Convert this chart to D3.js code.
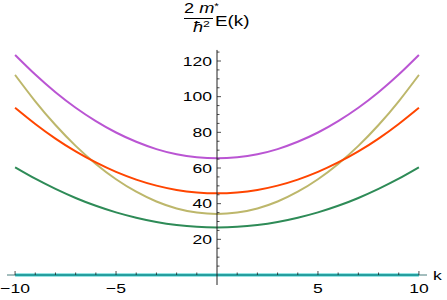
<!DOCTYPE html>
<html>
<head>
<meta charset="utf-8">
<script src="https://cdn.jsdelivr.net/npm/d3@7"></script>
<style>
  body { margin: 0; background: #fff; }
  svg text { font-family: "Liberation Sans", Arial, sans-serif; fill: #000; }
</style>
</head>
<body>
<svg id="chart" width="447" height="300"></svg>
<script>
// values
var kValues = [-10, -9, -8, -7, -6, -5, -4, -3, -2, -1, 0, 1, 2, 3, 4, 5, 6, 7, 8, 9, 10];
var bandPurple = [123.4, 112.4, 102.5, 93.8, 86.3, 79.9, 74.7, 70.6, 67.7, 66.0, 65.4, 66.0, 67.7, 70.6, 74.7, 79.9, 86.3, 93.8, 102.5, 112.4, 123.4];
var bandOrange = [93.8, 84.7, 76.5, 69.3, 63.1, 57.8, 53.5, 50.1, 47.7, 46.3, 45.8, 46.3, 47.7, 50.1, 53.5, 57.8, 63.1, 69.3, 76.5, 84.7, 93.8];
var bandOlive = [112.2, 97.4, 84.1, 72.4, 62.3, 53.7, 46.7, 41.2, 37.3, 35.0, 34.2, 35.0, 37.3, 41.2, 46.7, 53.7, 62.3, 72.4, 84.1, 97.4, 112.2];
var bandGreen = [60.4, 54.0, 48.3, 43.2, 38.8, 35.1, 32.1, 29.7, 28.0, 27.0, 26.7, 27.0, 28.0, 29.7, 32.1, 35.1, 38.8, 43.2, 48.3, 54.0, 60.4];
var bandTeal = [0, 0, 0, 0, 0, 0, 0, 0, 0, 0, 0, 0, 0, 0, 0, 0, 0, 0, 0, 0, 0];
var xTickLabels = [-10, -5, 5, 10];
var yTickLabels = [20, 40, 60, 80, 100, 120];

var series = [
    { values: bandTeal, color: "#30cccc", width: 3 },
    { values: bandGreen, color: "#2e8b57", width: 2 },
    { values: bandOlive, color: "#bdb76b", width: 2 },
    { values: bandOrange, color: "#ff4500", width: 2 },
    { values: bandPurple, color: "#ba55d3", width: 2 }
];

var svg = d3.select("#chart");

var x = d3.scaleLinear().domain([-10.4, 10.4]).range([7, 427]);
var y = d3.scaleLinear().domain([0, 120]).range([275, 61]);
var xStretch = 1.3;

// curves
var line = d3.line()
    .x(function(d, i) { return x(kValues[i]); })
    .y(function(d) { return y(d); })
    .curve(d3.curveNatural);

svg.selectAll("path.band")
    .data(series)
  .enter()
    .append("path")
    .attr("class", "band")
    .attr("d", function(d) { return line(d.values); })
    .attr("fill", "none")
    .attr("stroke", function(d) { return d.color; })
    .attr("stroke-width", function(d) { return d.width; });

// axes
var axes = svg.append("g").attr("stroke", "#222").attr("stroke-width", 1);
axes.append("line")
    .attr("x1", x(-10.4)).attr("x2", x(10.4))
    .attr("y1", y(0)).attr("y2", y(0))
    .attr("stroke-width", 0.8)
    .attr("stroke", "#1a5a5a");
axes.append("line")
    .attr("x1", x(0)).attr("x2", x(0))
    .attr("y1", y(-5.6)).attr("y2", y(126.2));

// x ticks, pointing up
axes.selectAll("line.xtick")
    .data(d3.range(-10, 11).filter(function(v) { return v !== 0; }))
  .enter()
    .append("line")
    .attr("x1", function(d) { return x(d); })
    .attr("x2", function(d) { return x(d); })
    .attr("y1", y(0))
    .attr("y2", function(d) { return y(0) - (d % 5 === 0 ? 4 : 2.5); })
    .attr("stroke-width", 0.8);

// y ticks, pointing right
axes.selectAll("line.ytick")
    .data(d3.range(5, 126, 5))
  .enter()
    .append("line")
    .attr("y1", function(d) { return y(d); })
    .attr("y2", function(d) { return y(d); })
    .attr("x1", x(0))
    .attr("x2", function(d) { return x(0) + (d % 20 === 0 ? 4 : 2.5); })
    .attr("stroke-width", 0.8);

// tick labels
svg.selectAll("text.xlab")
    .data(xTickLabels)
  .enter()
    .append("text")
    .attr("transform", function(d) { return "translate(" + x(d) + ",293) scale(" + xStretch + ",1)"; })
    .attr("text-anchor", "middle")
    .attr("font-size", 13.5)
    .text(function(d) { return d < 0 ? "\u2212" + Math.abs(d) : d; });

svg.selectAll("text.ylab")
    .data(yTickLabels)
  .enter()
    .append("text")
    .attr("transform", function(d) { return "translate(212," + (y(d) + 4.8) + ") scale(" + xStretch + ",1)"; })
    .attr("text-anchor", "end")
    .attr("font-size", 13.5)
    .text(function(d) { return d; });

// axis labels
svg.append("text")
    .attr("transform", "translate(433," + (y(0) + 4.8) + ") scale(" + xStretch + ",1)")
    .attr("font-size", 13.5)
    .text("k");

var title = svg.append("g");
var num = title.append("text")
    .attr("transform", "translate(184,13) scale(" + xStretch + ",1)")
    .attr("font-size", 14);
num.append("tspan").text("2 ");
num.append("tspan").attr("font-style", "italic").text("m");
num.append("tspan").attr("font-size", 9).attr("dy", -4).text("*");

title.append("line")
    .attr("x1", 184).attr("x2", 213)
    .attr("y1", 18.5).attr("y2", 18.5)
    .attr("stroke", "#000").attr("stroke-width", 1);

var den = title.append("text")
    .attr("transform", "translate(193,32) scale(" + xStretch + ",1)")
    .attr("font-size", 14);
den.append("tspan").attr("font-style", "italic").text("\u0127");
den.append("tspan").attr("font-size", 9.5).attr("dy", -5).text("2");

title.append("text")
    .attr("transform", "translate(215,25.5) scale(" + xStretch + ",1)")
    .attr("font-size", 14.5)
    .text("E(k)");
</script>
</body>
</html>
